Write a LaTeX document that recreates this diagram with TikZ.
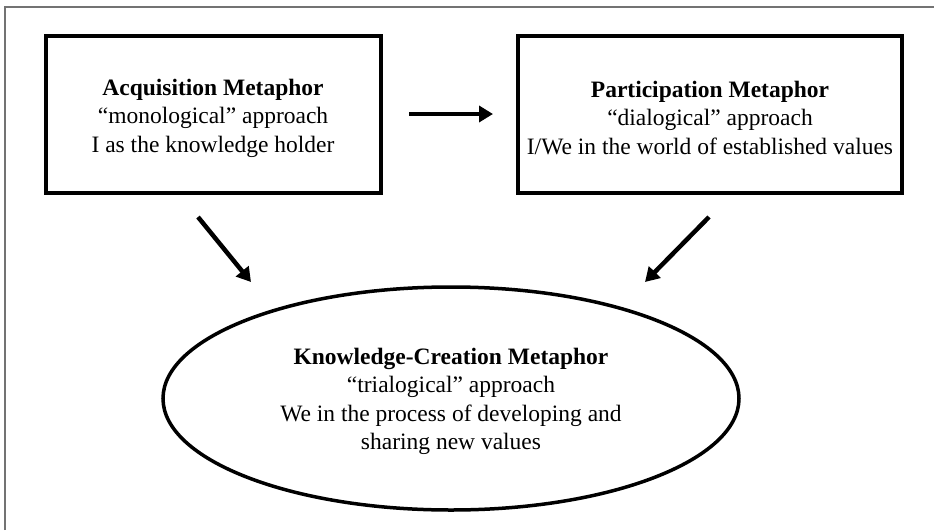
\documentclass[tikz,border=0pt]{standalone}
\usepackage{fontspec}
\setmainfont{Liberation Serif}
\usetikzlibrary{arrows.meta,shapes.geometric}
\tikzset{
  frame/.style={draw=black!55, line width=1.5pt},
  boxshape/.style={draw, line width=4pt, rectangle, inner sep=0pt},
  ellshape/.style={draw, line width=3.5pt, ellipse, inner sep=0pt},
  txt/.style={align=center, font=\fontsize{23.5}{28.5}\selectfont, inner sep=0pt},
  conn/.style={line width=4.5pt, -{Triangle[length=14pt,width=16pt]}}
}
\begin{document}
\begin{tikzpicture}[x=1pt,y=-1pt]
\useasboundingbox (0,0) rectangle (934,530);
\draw[frame] (5,530) -- (5,7) -- (934,7);
% shapes
\node[boxshape, minimum width=335pt, minimum height=157pt] (acq) at (213,114) {};
\node[boxshape, minimum width=384pt, minimum height=157pt] (par) at (710,114) {};
\node[ellshape, minimum width=576pt, minimum height=223pt] (kc) at (451,398.5) {};
% texts
\node[txt] (acqt) at (213,118) {\textbf{Acquisition Metaphor}\\“monological” approach\\I as the knowledge holder};
\node[txt] (part) at (710,118) {\textbf{Participation Metaphor}\\“dialogical” approach\\I/We in the world of established values};
\node[txt] (kct) at (451,401.5) {\textbf{Knowledge-Creation Metaphor}\\“trialogical” approach\\We in the process of developing and\\sharing new values};
% connector end points
\coordinate (h1) at (409,114);
\coordinate (h2) at (493,114);
\coordinate (l1) at (198,217);
\coordinate (l2) at (251,282);
\coordinate (r1) at (709,217);
\coordinate (r2) at (645,282);
\draw[conn] (h1) -- (h2);
\draw[conn] (l1) -- (l2);
\draw[conn] (r1) -- (r2);
\end{tikzpicture}
\end{document}
